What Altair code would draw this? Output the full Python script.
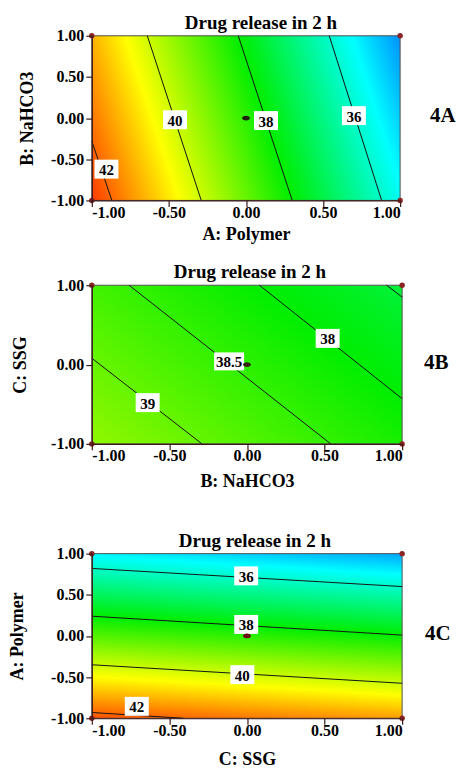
import altair as alt
import pandas as pd

SERIF = "Liberation Serif"
TITLE = "Drug release in 2 h"
TICKS = [-1.0, -0.5, 0.0, 0.5, 1.0]

# colour ramp of the response (value -> colour)
LEVELS = [33.0, 35.5, 38.0, 40.5, 43.0]
COLORS = ["#0000ff", "#00ffff", "#00ee00", "#ffff00", "#ff0000"]

# ---------- Panel 4A : A (x) vs B (y) ----------
A_SURF = [38.43, -3.41, -0.60]          # centre value, slope along x, slope along y
A_LEVEL = [42, 40, 38, 36]
A_X1 = [-1.00, -0.64, -0.05, 0.54]
A_Y1 = [-0.28, 1.00, 1.00, 1.00]
A_X2 = [-0.87, -0.29, 0.30, 0.88]
A_Y2 = [-1.00, -1.00, -1.00, -1.00]
A_LAB = ["42", "40", "38", "36"]
A_LAB_X = [-0.905, -0.46, 0.13, 0.70]
A_LAB_Y = [-0.62, -0.02, -0.03, 0.03]

# ---------- Panel 4B : B (x) vs C (y) ----------
B_SURF = [38.43, -0.60, -0.39]
B_LEVEL = [39, 38.5, 38, 37.5]
B_X1 = [-1.00, -0.76, 0.08, 0.90]
B_Y1 = [0.08, 1.00, 1.00, 1.00]
B_X2 = [-0.29, 0.54, 1.00, 1.00]
B_Y2 = [-1.00, -1.00, -0.43, 0.85]
B_LAB = ["39", "38.5", "38"]
B_LAB_X = [-0.64, -0.115, 0.52]
B_LAB_Y = [-0.48, 0.04, 0.33]

# ---------- Panel 4C : C (x) vs A (y) ----------
C_SURF = [38.43, -0.39, -3.41]
C_LEVEL = [36, 38, 40, 42]
C_X1 = [-1.00, -1.00, -1.00, -1.00]
C_Y1 = [0.82, 0.24, -0.35, -0.93]
C_X2 = [1.00, 1.00, 1.00, -0.41]
C_Y2 = [0.60, 0.01, -0.575, -1.00]
C_LAB = ["36", "38", "40", "42"]
C_LAB_X = [-0.005, -0.005, -0.03, -0.71]
C_LAB_Y = [0.73, 0.14, -0.47, -0.855]

LABEL_EXPR = "replace(format(datum.value, '.2f'), '\u2212', '-')"
BOX2 = "M-1.2,-0.95H1.2V0.95H-1.2Z"
BOX4 = "M-1.5,-0.9H1.5V0.9H-1.5Z"
ELLIPSE = "M-1,0A1,0.6,0,1,1,1,0A1,0.6,0,1,1,-1,0Z"


def gradient(surf):
    c, gx, gy = surf
    gu, gv = 2 * gx, -2 * gy
    n2 = gu * gu + gv * gv
    k1 = (LEVELS[0] - c) / n2
    k2 = (LEVELS[-1] - c) / n2
    span = LEVELS[-1] - LEVELS[0]
    return {
        "gradient": "linear",
        "x1": 0.5 + k1 * gu, "y1": 0.5 + k1 * gv,
        "x2": 0.5 + k2 * gu, "y2": 0.5 + k2 * gv,
        "stops": [{"offset": (l - LEVELS[0]) / span, "color": col}
                  for l, col in zip(LEVELS, COLORS)],
    }


def panel(tag, xtitle, ytitle, surf, x1, y1, x2, y2, lab, lx, ly,
          w, h, title_dx, title_dy, ypad, xpad, tag_dx, centre_color):
    xs = alt.Scale(domain=[TICKS[0], TICKS[-1]], nice=False, zero=False)
    ys = alt.Scale(domain=[TICKS[0], TICKS[-1]], nice=False, zero=False)
    xaxis = alt.Axis(title=xtitle, values=TICKS, labelExpr=LABEL_EXPR, grid=False,
                     tickSize=6, titlePadding=xpad, labelPadding=-2, zindex=1)
    yaxis = alt.Axis(title=ytitle, values=TICKS, labelExpr=LABEL_EXPR, grid=False,
                     tickSize=6, titlePadding=ypad, labelPadding=2, zindex=1)

    frame = pd.DataFrame({"x": [TICKS[0]], "x2": [TICKS[-1]],
                          "y": [TICKS[0]], "y2": [TICKS[-1]]})
    bg = alt.Chart(frame).mark_rect(fill=gradient(surf), stroke="#505050",
                                    strokeWidth=1).encode(
        x=alt.X("x:Q", scale=xs, axis=xaxis), x2="x2:Q",
        y=alt.Y("y:Q", scale=ys, axis=yaxis), y2="y2:Q")

    ldf = pd.DataFrame({"x": x1, "y": y1, "x2": x2, "y2": y2})
    lines = alt.Chart(ldf).mark_rule(color="#151515", strokeWidth=1).encode(
        x=alt.X("x:Q", scale=xs), y=alt.Y("y:Q", scale=ys), x2="x2:Q", y2="y2:Q")

    tdf = pd.DataFrame({"x": lx, "y": ly, "t": lab})
    base_t = alt.Chart(tdf).encode(x=alt.X("x:Q", scale=xs), y=alt.Y("y:Q", scale=ys))
    box2 = base_t.transform_filter("length(datum.t) <= 2").mark_point(
        shape=BOX2, size=400, filled=True, color="white", opacity=1)
    box4 = base_t.transform_filter("length(datum.t) > 2").mark_point(
        shape=BOX4, size=400, filled=True, color="white", opacity=1)
    texts = base_t.mark_text(font=SERIF, fontSize=15, fontWeight="bold",
                             color="black", baseline="middle", dy=1).encode(text="t:N")

    cdf = pd.DataFrame({"x": [TICKS[0], TICKS[0], TICKS[-1], TICKS[-1]],
                        "y": [TICKS[0], TICKS[-1], TICKS[0], TICKS[-1]]})
    corners = alt.Chart(cdf).mark_point(shape="circle", size=30, filled=True,
                                        color="#8b2525", opacity=1).encode(
        x=alt.X("x:Q", scale=xs), y=alt.Y("y:Q", scale=ys))

    mdf = pd.DataFrame({"x": [TICKS[2]], "y": [TICKS[2]]})
    centre = alt.Chart(mdf).mark_point(shape=ELLIPSE, size=64, filled=True,
                                       color=centre_color, opacity=1).encode(
        x=alt.X("x:Q", scale=xs), y=alt.Y("y:Q", scale=ys))

    gdf = pd.DataFrame({"t": [tag]})
    tagm = alt.Chart(gdf).mark_text(font=SERIF, fontSize=21, fontWeight="bold",
                                    color="black", align="left",
                                    baseline="middle").encode(
        text="t:N", x=alt.value(w + tag_dx), y=alt.value(h / 2 - 2))

    return alt.layer(bg, lines, box2, box4, texts, corners, centre, tagm).properties(
        width=w, height=h,
        title=alt.TitleParams(TITLE, font=SERIF, fontSize=19, fontWeight="bold",
                              color="black", offset=3, dx=title_dx, dy=title_dy))


pA = panel("4A", "A: Polymer", "B: NaHCO3", A_SURF, A_X1, A_Y1, A_X2, A_Y2,
           A_LAB, A_LAB_X, A_LAB_Y, 309, 165, 15, 8, 14, 5, 30, "#202010")
pB = panel("4B", "B: NaHCO3", "C: SSG", B_SURF, B_X1, B_Y1, B_X2, B_Y2,
           B_LAB, B_LAB_X, B_LAB_Y, 311, 159, 3, 8, 21, 9, 22, "#3a2010")
pC = panel("4C", "C: SSG", "A: Polymer", C_SURF, C_X1, C_Y1, C_X2, C_Y2,
           C_LAB, C_LAB_X, C_LAB_Y, 311, 165, 8, 8, 24, 12, 23, "#6b1010")

chart = alt.vconcat(alt.vconcat(pA, pB, spacing=20), pC, spacing=41).properties(
    padding={"left": 0, "top": 5, "right": 0, "bottom": 0}
).configure_view(stroke=None).configure_axis(
    labelFont=SERIF, labelFontSize=16, labelFontWeight="bold", labelColor="black",
    titleFont=SERIF, titleFontSize=18, titleFontWeight="bold", titleColor="black",
    domainColor="#3a1a1a", tickColor="#3a1a1a", domainWidth=1.2, tickWidth=1.2,
)

chart.save("out.html", embed_options={"renderer": "svg", "actions": False})
